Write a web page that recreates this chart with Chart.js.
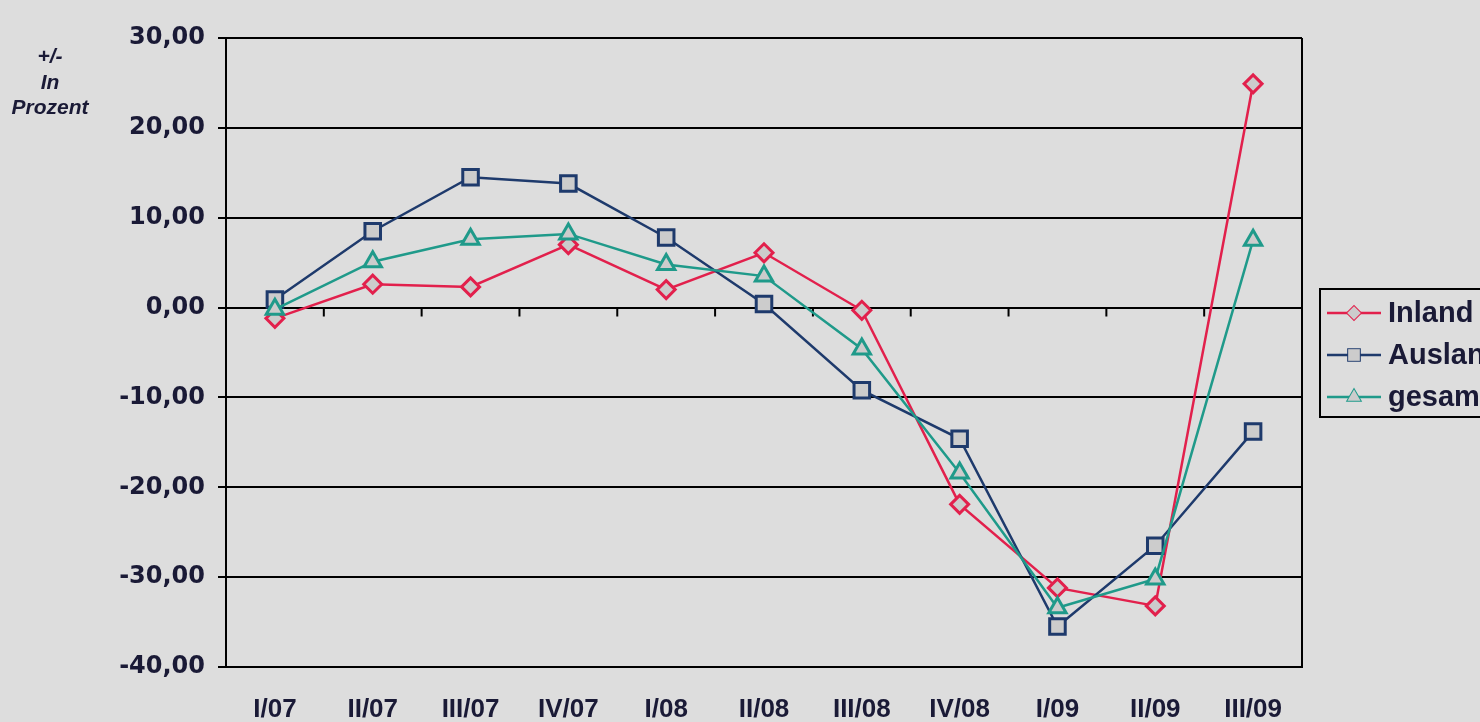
<!DOCTYPE html>
<html>
<head>
<meta charset="utf-8">
<script src="https://cdn.jsdelivr.net/npm/chart.js@4/dist/chart.umd.min.js"></script>
<style>
  html, body { margin: 0; padding: 0; background: #dddddd; overflow: hidden; }
  #wrap { width: 1480px; height: 722px; }
</style>
</head>
<body>
<div id="wrap"><canvas id="lineChart" width="1480" height="722"></canvas></div>
<script>
const quartale = ['I/07', 'II/07', 'III/07', 'IV/07', 'I/08', 'II/08', 'III/08', 'IV/08', 'I/09', 'II/09', 'III/09'];
const inland  = [-1.2, 2.6, 2.3, 7.0, 2.0, 6.1, -0.3, -21.9, -31.2, -33.2, 24.9];
const ausland = [0.9, 8.5, 14.5, 13.8, 7.8, 0.4, -9.2, -14.6, -35.5, -26.5, -13.8];
const gesamt  = [-0.2, 5.1, 7.6, 8.2, 4.8, 3.5, -4.6, -18.4, -33.4, -30.2, 7.5];
const yTicks = [30, 20, 10, 0, -10, -20, -30, -40];

const textColor = '#1a1a36';
const serien = [
  { label: 'Inland',  data: inland,  color: '#e2204c', style: 'rectRot',  radius: 9,  order: 3 },
  { label: 'Ausland', data: ausland, color: '#1e3a6c', style: 'rect',     radius: 11, order: 2 },
  { label: 'gesamt',  data: gesamt,  color: '#1f9a8a', style: 'triangle', radius: 10, order: 1 }
];

// Rahmen rechts, Striche an der Nulllinie, Legende und Einheit
const extras = {
  id: 'extras',
  beforeDatasetsDraw(chart) {
    const { ctx, chartArea, scales } = chart;
    ctx.save();
    ctx.strokeStyle = '#000';
    ctx.lineWidth = 2;
    ctx.beginPath();
    ctx.moveTo(chartArea.right, chartArea.top);
    ctx.lineTo(chartArea.right, chartArea.bottom);
    const y0 = scales.y.getPixelForValue(0);
    const step = (chartArea.right - chartArea.left) / quartale.length;
    for (let i = 1; i < quartale.length; i++) {
      const x = chartArea.left + i * step;
      ctx.moveTo(x, y0);
      ctx.lineTo(x, y0 + 9);
    }
    ctx.stroke();
    ctx.restore();
  },
  afterDraw(chart) {
    const { ctx } = chart;
    ctx.save();
    // Einheit oben links
    ctx.fillStyle = textColor;
    ctx.font = 'italic bold 21px "Liberation Sans", Arial, sans-serif';
    ctx.textAlign = 'center';
    ctx.textBaseline = 'middle';
    ctx.fillText('+/-', 50, 57);
    ctx.fillText('In', 50, 83);
    ctx.fillText('Prozent', 50, 108);

    // Legende
    ctx.fillStyle = '#dddddd';
    ctx.fillRect(1320, 289, 200, 128);
    ctx.strokeStyle = '#000';
    ctx.lineWidth = 2;
    ctx.strokeRect(1320, 289, 200, 128);
    const rows = [313, 355, 397];
    serien.forEach((s, i) => {
      const y = rows[i];
      ctx.strokeStyle = s.color;
      ctx.lineWidth = 2.5;
      ctx.beginPath();
      ctx.moveTo(1327, y);
      ctx.lineTo(1381, y);
      ctx.stroke();
      ctx.fillStyle = '#cccccc';
      ctx.lineWidth = 2;
      Chart.helpers.drawPoint(ctx, { pointStyle: s.style, radius: s.radius * 0.75, borderWidth: 2 }, 1354, y);
      ctx.fill();
      ctx.fillStyle = textColor;
      ctx.font = 'bold 29px "Liberation Sans", Arial, sans-serif';
      ctx.textAlign = 'left';
      ctx.textBaseline = 'middle';
      ctx.fillText(s.label, 1388, y + 1);
    });
    ctx.restore();
  }
};

const ctx = document.getElementById('lineChart').getContext('2d');
const lineChart = new Chart(ctx, {
  type: 'line',
  data: {
    labels: quartale,
    datasets: serien.map(s => ({
      label: s.label,
      data: s.data,
      order: s.order,
      borderColor: s.color,
      borderWidth: 2.5,
      tension: 0,
      pointStyle: s.style,
      pointRadius: s.radius,
      pointBorderWidth: 3,
      pointBorderColor: s.color,
      pointBackgroundColor: '#cccccc'
    }))
  },
  options: {
    responsive: false,
    animation: false,
    layout: { padding: { top: 38, right: 178, left: 0, bottom: 0 } },
    plugins: { legend: { display: false }, tooltip: { enabled: false } },
    scales: {
      x: {
        offset: true,
        grid: { display: false },
        border: { display: true, color: '#000', width: 2 },
        ticks: {
          color: textColor,
          padding: 19,
          maxRotation: 0,
          font: { family: '"Liberation Sans", Arial, sans-serif', weight: 'bold', size: 26 }
        },
        afterFit(scale) { scale.height = 55; }
      },
      y: {
        min: -40,
        max: 30,
        afterBuildTicks(scale) { scale.ticks = yTicks.map(v => ({ value: v })); },
        grid: { color: '#000', lineWidth: 2, tickLength: 8 },
        border: { display: true, color: '#000', width: 2 },
        ticks: {
          color: textColor,
          padding: 13,
          font: { family: '"DejaVu Sans", sans-serif', weight: 'bold', size: 24 },
          callback: v => v.toFixed(2).replace('.', ',')
        },
        afterFit(scale) { scale.width = 226; }
      }
    }
  },
  plugins: [extras]
});
</script>
</body>
</html>
